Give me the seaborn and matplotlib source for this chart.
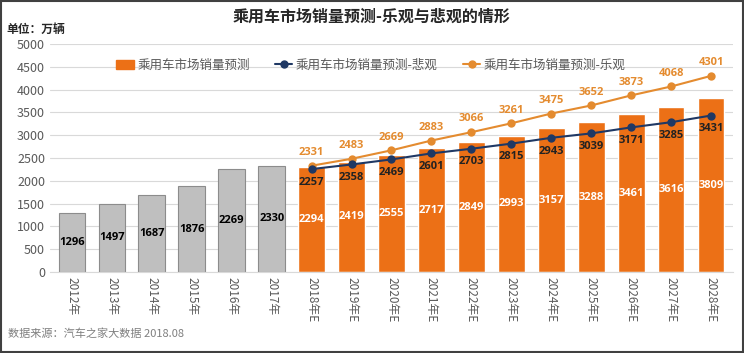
import matplotlib
matplotlib.use("Agg")
import matplotlib.pyplot as plt
from matplotlib.patches import Patch
from matplotlib.lines import Line2D
import numpy as np
import pandas as pd
import seaborn as sns

# data
years = ["2012年", "2013年", "2014年", "2015年", "2016年", "2017年",
         "2018年E", "2019年E", "2020年E", "2021年E", "2022年E", "2023年E",
         "2024年E", "2025年E", "2026年E", "2027年E", "2028年E"]
sales = [1296, 1497, 1687, 1876, 2269, 2330,
         2294, 2419, 2555, 2717, 2849, 2993, 3157, 3288, 3461, 3616, 3809]
kind = ["实际"] * 6 + ["预测"] * 11
forecast_years = years[6:]
pessimistic = [2257, 2358, 2469, 2601, 2703, 2815, 2943, 3039, 3171, 3285, 3431]
optimistic = [2331, 2483, 2669, 2883, 3066, 3261, 3475, 3652, 3873, 4068, 4301]

GRAY = "#BFBFBF"
ORANGE = "#EC7016"
NAVY = "#1F3864"
LIGHT_OR = "#E48B2F"

sns.set_style("white")
plt.rcParams['font.family'] = ['Noto Sans CJK SC', 'DejaVu Sans']

df = pd.DataFrame({"year": years, "sales": sales, "kind": kind})

fig = plt.figure(figsize=(7.44, 3.53), dpi=100)
ax = fig.add_axes([50 / 744, 1 - 272 / 353, 683 / 744, 228 / 353])

sns.barplot(data=df, x="year", y="sales", hue="kind", order=years,
            palette={"实际": GRAY, "预测": ORANGE}, dodge=False, width=0.67,
            saturation=1, legend=False, ax=ax)
for p, k in zip(ax.patches, kind):
    if k == "实际":
        p.set_edgecolor("#8C8C8C")
        p.set_linewidth(0.8)

# forecast lines on the category positions
pos = [years.index(y) for y in forecast_years]
sns.lineplot(x=pos, y=optimistic, color=LIGHT_OR, marker="o", markersize=6,
             markeredgewidth=0, linewidth=1.5, ax=ax)
sns.lineplot(x=pos, y=pessimistic, color=NAVY, marker="o", markersize=6,
             markeredgewidth=0, linewidth=1.5, ax=ax)

# labels
lab_font = ['Open Sans', 'DejaVu Sans']
for i, v in enumerate(sales):
    c = "black" if kind[i] == "实际" else "white"
    ax.text(i, v / 2, str(v), ha="center", va="center", fontsize=8,
            fontweight="bold", color=c, family=lab_font)
for x, v in zip(pos, optimistic):
    ax.text(x, v + 170, str(v), ha="center", va="bottom", fontsize=8,
            fontweight="bold", color=LIGHT_OR, family=lab_font)
for x, v in zip(pos, pessimistic):
    ax.text(x, v - 170, str(v), ha="center", va="top", fontsize=8,
            fontweight="bold", color="#222222", family=lab_font)

ax.set_ylim(0, 5000)
ax.set_yticks(range(0, 5001, 500))
ax.set_xlim(-0.55, len(years) - 0.45)
ax.yaxis.grid(True, color="#D9D9D9", linewidth=0.8)
ax.set_axisbelow(True)
ax.set_xlabel("")
ax.set_ylabel("")
for s in ["left", "right", "top"]:
    ax.spines[s].set_visible(False)
ax.spines["bottom"].set_color("#D9D9D9")
ax.tick_params(axis="y", labelsize=9, colors="#595959", length=0)
ax.tick_params(axis="x", labelsize=8.5, colors="#595959", length=0)
plt.setp(ax.get_xticklabels(), rotation=270, va="top", ha="center")

handles = [Patch(color=ORANGE, label="乘用车市场销量预测"),
           Line2D([], [], color=NAVY, marker="o", markersize=5, label="乘用车市场销量预测-悲观"),
           Line2D([], [], color=LIGHT_OR, marker="o", markersize=5, label="乘用车市场销量预测-乐观")]
ax.legend(handles=handles, loc="upper center", bbox_to_anchor=(0.47, 0.985), ncol=3,
          frameon=False, fontsize=9, handlelength=1.4, handletextpad=0.3,
          columnspacing=2.0, labelcolor="#595959")

fig.text(0.5, 1 - 17 / 353, "乘用车市场销量预测-乐观与悲观的情形", ha="center", va="center",
         fontsize=11.5, fontweight="bold", color="#262626")
fig.text(6 / 744, 1 - 29 / 353, "单位：万辆", ha="left", va="center", fontsize=8.5,
         fontweight="bold", color="#262626")
fig.text(8 / 744, 1 - 334 / 353, "数据来源：汽车之家大数据 2018.08", ha="left", va="center",
         fontsize=8, color="#7F7F7F")

fig.patches.append(plt.Rectangle((0.002, 0.003), 0.996, 0.994, transform=fig.transFigure,
                                 fill=False, edgecolor="#404040", linewidth=1.5))

fig.savefig("out.png", dpi=100)
